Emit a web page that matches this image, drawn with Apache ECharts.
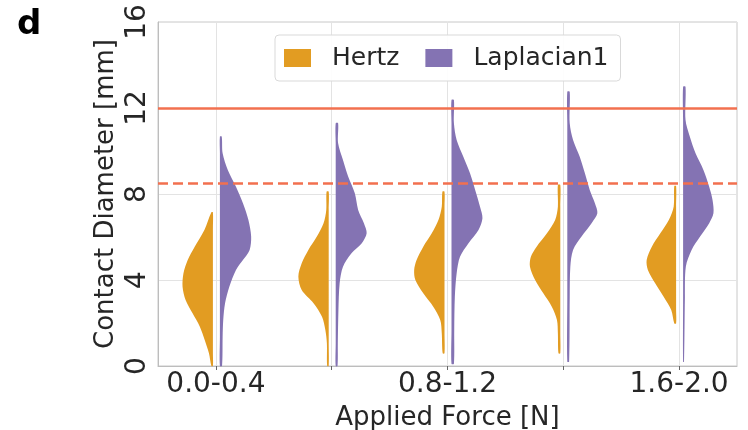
<!DOCTYPE html>
<html><head><meta charset="utf-8">
<script src="https://cdn.jsdelivr.net/npm/echarts@6/dist/echarts.min.js"></script>
<style>html,body{margin:0;padding:0;background:#fff}#c{width:748px;height:430px}</style>
</head><body><div id="c"></div>
<script>
// ---- data ----
const categories = ['0.0-0.4', '0.4-0.8', '0.8-1.2', '1.2-1.6', '1.6-2.0'];
const seriesNames = ['Hertz', 'Laplacian1'];
const refSolid = 12;     // mm
const refDashed = 8.5;   // mm
// each violin: [contact diameter (mm), relative density]
const hertzProfiles = [
  [[0.0,0.05],[0.59,0.13],[1.21,0.27],[1.83,0.43],[2.45,0.67],[3.07,0.9],[3.69,1.0],[4.31,0.97],[4.93,0.83],[5.55,0.6],[6.33,0.28],[7.15,0.05]],
  [[0.0,0.05],[1.06,0.06],[1.67,0.11],[2.29,0.22],[2.92,0.5],[3.53,0.89],[4.16,1.0],[4.78,0.89],[5.4,0.67],[6.02,0.39],[6.64,0.17],[7.26,0.08],[8.11,0.07]],
  [[0.59,0.06],[1.52,0.09],[2.14,0.14],[2.76,0.37],[3.38,0.7],[4.0,0.96],[4.47,1.0],[4.93,0.92],[5.55,0.7],[6.17,0.42],[6.79,0.2],[7.41,0.09],[8.11,0.07]],
  [[0.59,0.06],[1.52,0.08],[2.14,0.11],[2.76,0.28],[3.38,0.56],[4.0,0.83],[4.62,1.0],[5.08,0.97],[5.55,0.78],[6.17,0.44],[6.79,0.17],[7.41,0.08],[8.42,0.08]],
  [[1.98,0.06],[2.6,0.16],[3.22,0.41],[3.85,0.69],[4.47,0.93],[4.93,0.97],[5.55,0.8],[6.17,0.52],[6.79,0.24],[7.41,0.08],[8.37,0.06]]
];
const laplacianProfiles = [
  [[0.0,0.07],[1.36,0.09],[2.14,0.11],[2.92,0.17],[3.69,0.31],[4.47,0.53],[4.93,0.76],[5.4,0.98],[6.02,1.03],[6.79,0.94],[7.57,0.76],[8.34,0.53],[9.12,0.26],[9.89,0.09],[10.67,0.06]],
  [[0.0,0.06],[1.06,0.07],[2.6,0.09],[3.85,0.13],[4.62,0.24],[5.24,0.52],[5.71,0.86],[6.17,1.02],[6.64,0.93],[7.26,0.74],[8.03,0.63],[8.81,0.41],[9.58,0.24],[10.36,0.08],[11.29,0.08]],
  [[0.1,0.08],[1.67,0.09],[3.22,0.11],[4.31,0.17],[5.08,0.28],[5.71,0.56],[6.33,0.89],[6.87,1.02],[7.41,0.94],[8.19,0.78],[8.96,0.61],[9.73,0.39],[10.51,0.17],[11.29,0.08],[12.37,0.08]],
  [[0.2,0.06],[3.22,0.08],[4.62,0.1],[5.4,0.19],[6.02,0.47],[6.64,0.8],[7.1,0.99],[7.57,0.91],[8.19,0.74],[8.96,0.58],[9.73,0.41],[10.51,0.19],[11.29,0.08],[12.76,0.08]],
  [[0.2,0.03],[3.22,0.06],[4.62,0.09],[5.4,0.28],[6.02,0.56],[6.64,0.86],[7.1,1.0],[7.72,0.97],[8.34,0.86],[9.12,0.67],[9.89,0.41],[10.67,0.22],[11.44,0.08],[12.99,0.08]]
];

// ---- styles ----
const COLORS = ['#E29C22', '#8473B3'];
const RED = '#F2704F';
const FONT = 'DejaVu Sans';
const TEXT = '#262626';

function makeRender(profiles, side, color) {
  return function (params, api) {
    const i = params.dataIndex;
    const prof = profiles[i];
    const cx = api.coord([i, 0])[0];
    const band = api.size([1, 0])[0];
    const W = band * 0.262;
    const gap = side < 0 ? 3 : 4;
    const xe = cx + side * gap;
    const edge = prof.map(p => [xe + side * p[1] * W, api.coord([i, p[0]])[1]]);
    const center = prof.map(p => [xe, api.coord([i, p[0]])[1]]).reverse();
    return {
      type: 'polygon',
      shape: { points: edge.concat(center), smooth: 0.3 },
      style: { fill: color }
    };
  };
}

const chart = echarts.init(document.getElementById('c'), null, { renderer: 'canvas' });
chart.setOption({
  animation: false,
  color: COLORS,
  textStyle: { fontFamily: FONT },
  title: {
    text: 'd', left: 17, top: 8, padding: 0,
    textStyle: { fontSize: 34, fontWeight: 'bold', color: '#000', fontFamily: FONT }
  },
  grid: {
    left: 158, right: 11, top: 22, bottom: 64,
    containLabel: false, outerBoundsMode: 'none',
    show: true, borderColor: '#c8c8c8', borderWidth: 1
  },
  legend: {
    data: seriesNames.map((n, k) => ({
      name: n, icon: 'rect',
      itemStyle: { color: COLORS[k], borderWidth: 0, opacity: 1 }
    })),
    left: 275, top: 35, z: 20,
    itemWidth: 27, itemHeight: 18, itemGap: 26,
    padding: [8, 12, 8, 9],
    borderColor: '#d9d9d9', borderWidth: 1, borderRadius: 4,
    backgroundColor: 'rgba(255,255,255,0.92)',
    textStyle: { fontSize: 25, lineHeight: 30, color: TEXT, fontFamily: FONT, padding: [0, 0, 0, 16] }
  },
  xAxis: {
    type: 'category', data: categories, boundaryGap: true,
    name: 'Applied Force [N]', nameLocation: 'middle', nameGap: 39,
    nameMoveOverlap: false,
    nameTextStyle: { fontSize: 26, color: TEXT, fontFamily: FONT },
    axisLine: { lineStyle: { color: '#bdbdbd', width: 1 } },
    axisTick: { show: true, alignWithLabel: true, interval: 0, length: 4, lineStyle: { color: '#666' } },
    axisLabel: { interval: 1, fontSize: 28, color: TEXT, margin: 5, fontFamily: FONT },
    splitLine: { show: false }
  },
  yAxis: {
    type: 'value', min: 0, max: 16, interval: 4,
    name: 'Contact Diameter [mm]', nameLocation: 'middle', nameGap: 39, nameRotate: 90,
    nameMoveOverlap: false,
    nameTextStyle: { fontSize: 26, color: TEXT, fontFamily: FONT },
    axisLine: { show: true, lineStyle: { color: '#bdbdbd', width: 1 } },
    axisTick: { show: false },
    axisLabel: { rotate: 90, fontSize: 28, color: TEXT, margin: 6, fontFamily: FONT },
    splitLine: { show: true, lineStyle: { color: '#e3e3e3', width: 1 } }
  },
  series: [
    {
      name: '_vgrid', type: 'line', data: [], z: 1, silent: true,
      markLine: {
        symbol: 'none', silent: true, label: { show: false },
        lineStyle: { color: '#e3e3e3', width: 1, type: 'solid' },
        data: categories.map(c => ({ xAxis: c }))
      }
    },
    {
      name: seriesNames[0], type: 'custom', z: 2,
      itemStyle: { color: COLORS[0] },
      data: categories.map((c, i) => [i, 0]),
      encode: { x: 0, y: 1 },
      renderItem: makeRender(hertzProfiles, -1, COLORS[0])
    },
    {
      name: seriesNames[1], type: 'custom', z: 2,
      itemStyle: { color: COLORS[1] },
      data: categories.map((c, i) => [i, 0]),
      encode: { x: 0, y: 1 },
      renderItem: makeRender(laplacianProfiles, 1, COLORS[1])
    },
    {
      name: '_ref', type: 'line', data: [], z: 5, silent: true,
      markLine: {
        symbol: 'none', silent: true, label: { show: false },
        data: [
          { yAxis: refSolid, lineStyle: { color: RED, width: 2.5, type: 'solid' } },
          { yAxis: refDashed, lineStyle: { color: RED, width: 2.5, type: [10, 5] } }
        ]
      }
    }
  ]
});
</script>
</body></html>
